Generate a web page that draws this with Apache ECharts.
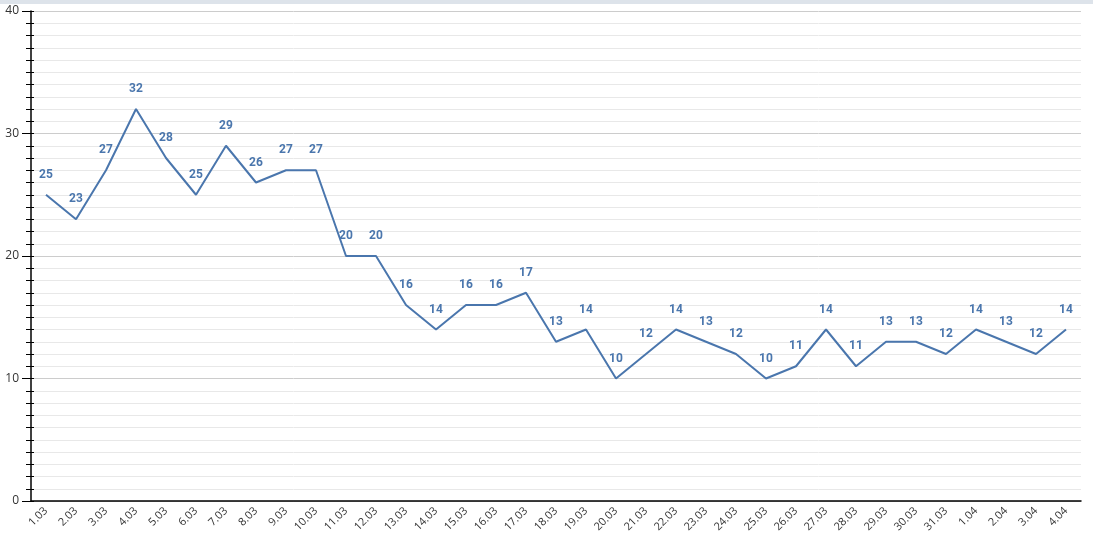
<!DOCTYPE html>
<html><head><meta charset="utf-8">
<script src="https://cdn.jsdelivr.net/npm/echarts@6/dist/echarts.min.js"></script>
<style>html,body{margin:0;padding:0;background:#fff}#top{height:4px;background:#dde3ea}#c{width:1093px;height:541px}</style>
</head><body><div id="top"></div><div id="c"></div>
<script>
const categories = ["1.03","2.03","3.03","4.03","5.03","6.03","7.03","8.03","9.03","10.03","11.03","12.03","13.03","14.03","15.03","16.03","17.03","18.03","19.03","20.03","21.03","22.03","23.03","24.03","25.03","26.03","27.03","28.03","29.03","30.03","31.03","1.04","2.04","3.04","4.04"];
const values = [25,23,27,32,28,25,29,26,27,27,20,20,16,14,16,16,17,13,14,10,12,14,13,12,10,11,14,11,13,13,12,14,13,12,14];
const yMin = 0, yMax = 40, yInterval = 10;
const chart = echarts.init(document.getElementById('c'));
chart.setOption({
  animation: false,
  grid: {left: 31, right: 12, top: 7, bottom: 44},
  xAxis: {
    type: 'category', data: categories, boundaryGap: true,
    axisLine: {lineStyle: {color: '#000', width: 1.5}},
    axisTick: {show: false},
    axisLabel: {rotate: 45, fontSize: 11, color: '#333', fontFamily: 'Open Sans', margin: 8}
  },
  yAxis: [{
    type: 'value', min: yMin, max: yMax, interval: yInterval,
    axisLine: {show: true, lineStyle: {color: '#000', width: 1.5}},
    axisTick: {show: true, length: 9, lineStyle: {color: '#000'}},
    minorTick: {show: true, splitNumber: 10, length: 5, lineStyle: {color: '#000'}},
    axisLabel: {fontSize: 12, color: '#333', fontFamily: 'Open Sans', margin: 12},
    splitLine: {lineStyle: {color: '#cccccc'}},
    minorSplitLine: {show: true, lineStyle: {color: '#e8e8e8'}}
  },{
    type: 'value', min: yMin, max: yMax, interval: yInterval, position: 'left',
    axisLine: {show: false},
    axisTick: {show: true, inside: true, length: 3, lineStyle: {color: '#000'}},
    minorTick: {show: true, splitNumber: 10, length: 3, lineStyle: {color: '#000'}},
    axisLabel: {show: false}, splitLine: {show: false}
  }],
  series: [{
    type: 'line', data: values, symbol: 'circle', symbolSize: 0, showSymbol: true, yAxisIndex: 0,
    itemStyle: {color: '#4a76ad'},
    lineStyle: {color: '#4a76ad', width: 2},
    label: {show: true, position: 'top', distance: 14, color: '#4a76ad', fontWeight: 'bold', fontSize: 12, fontFamily: 'Roboto'}
  }]
});
</script></body></html>
